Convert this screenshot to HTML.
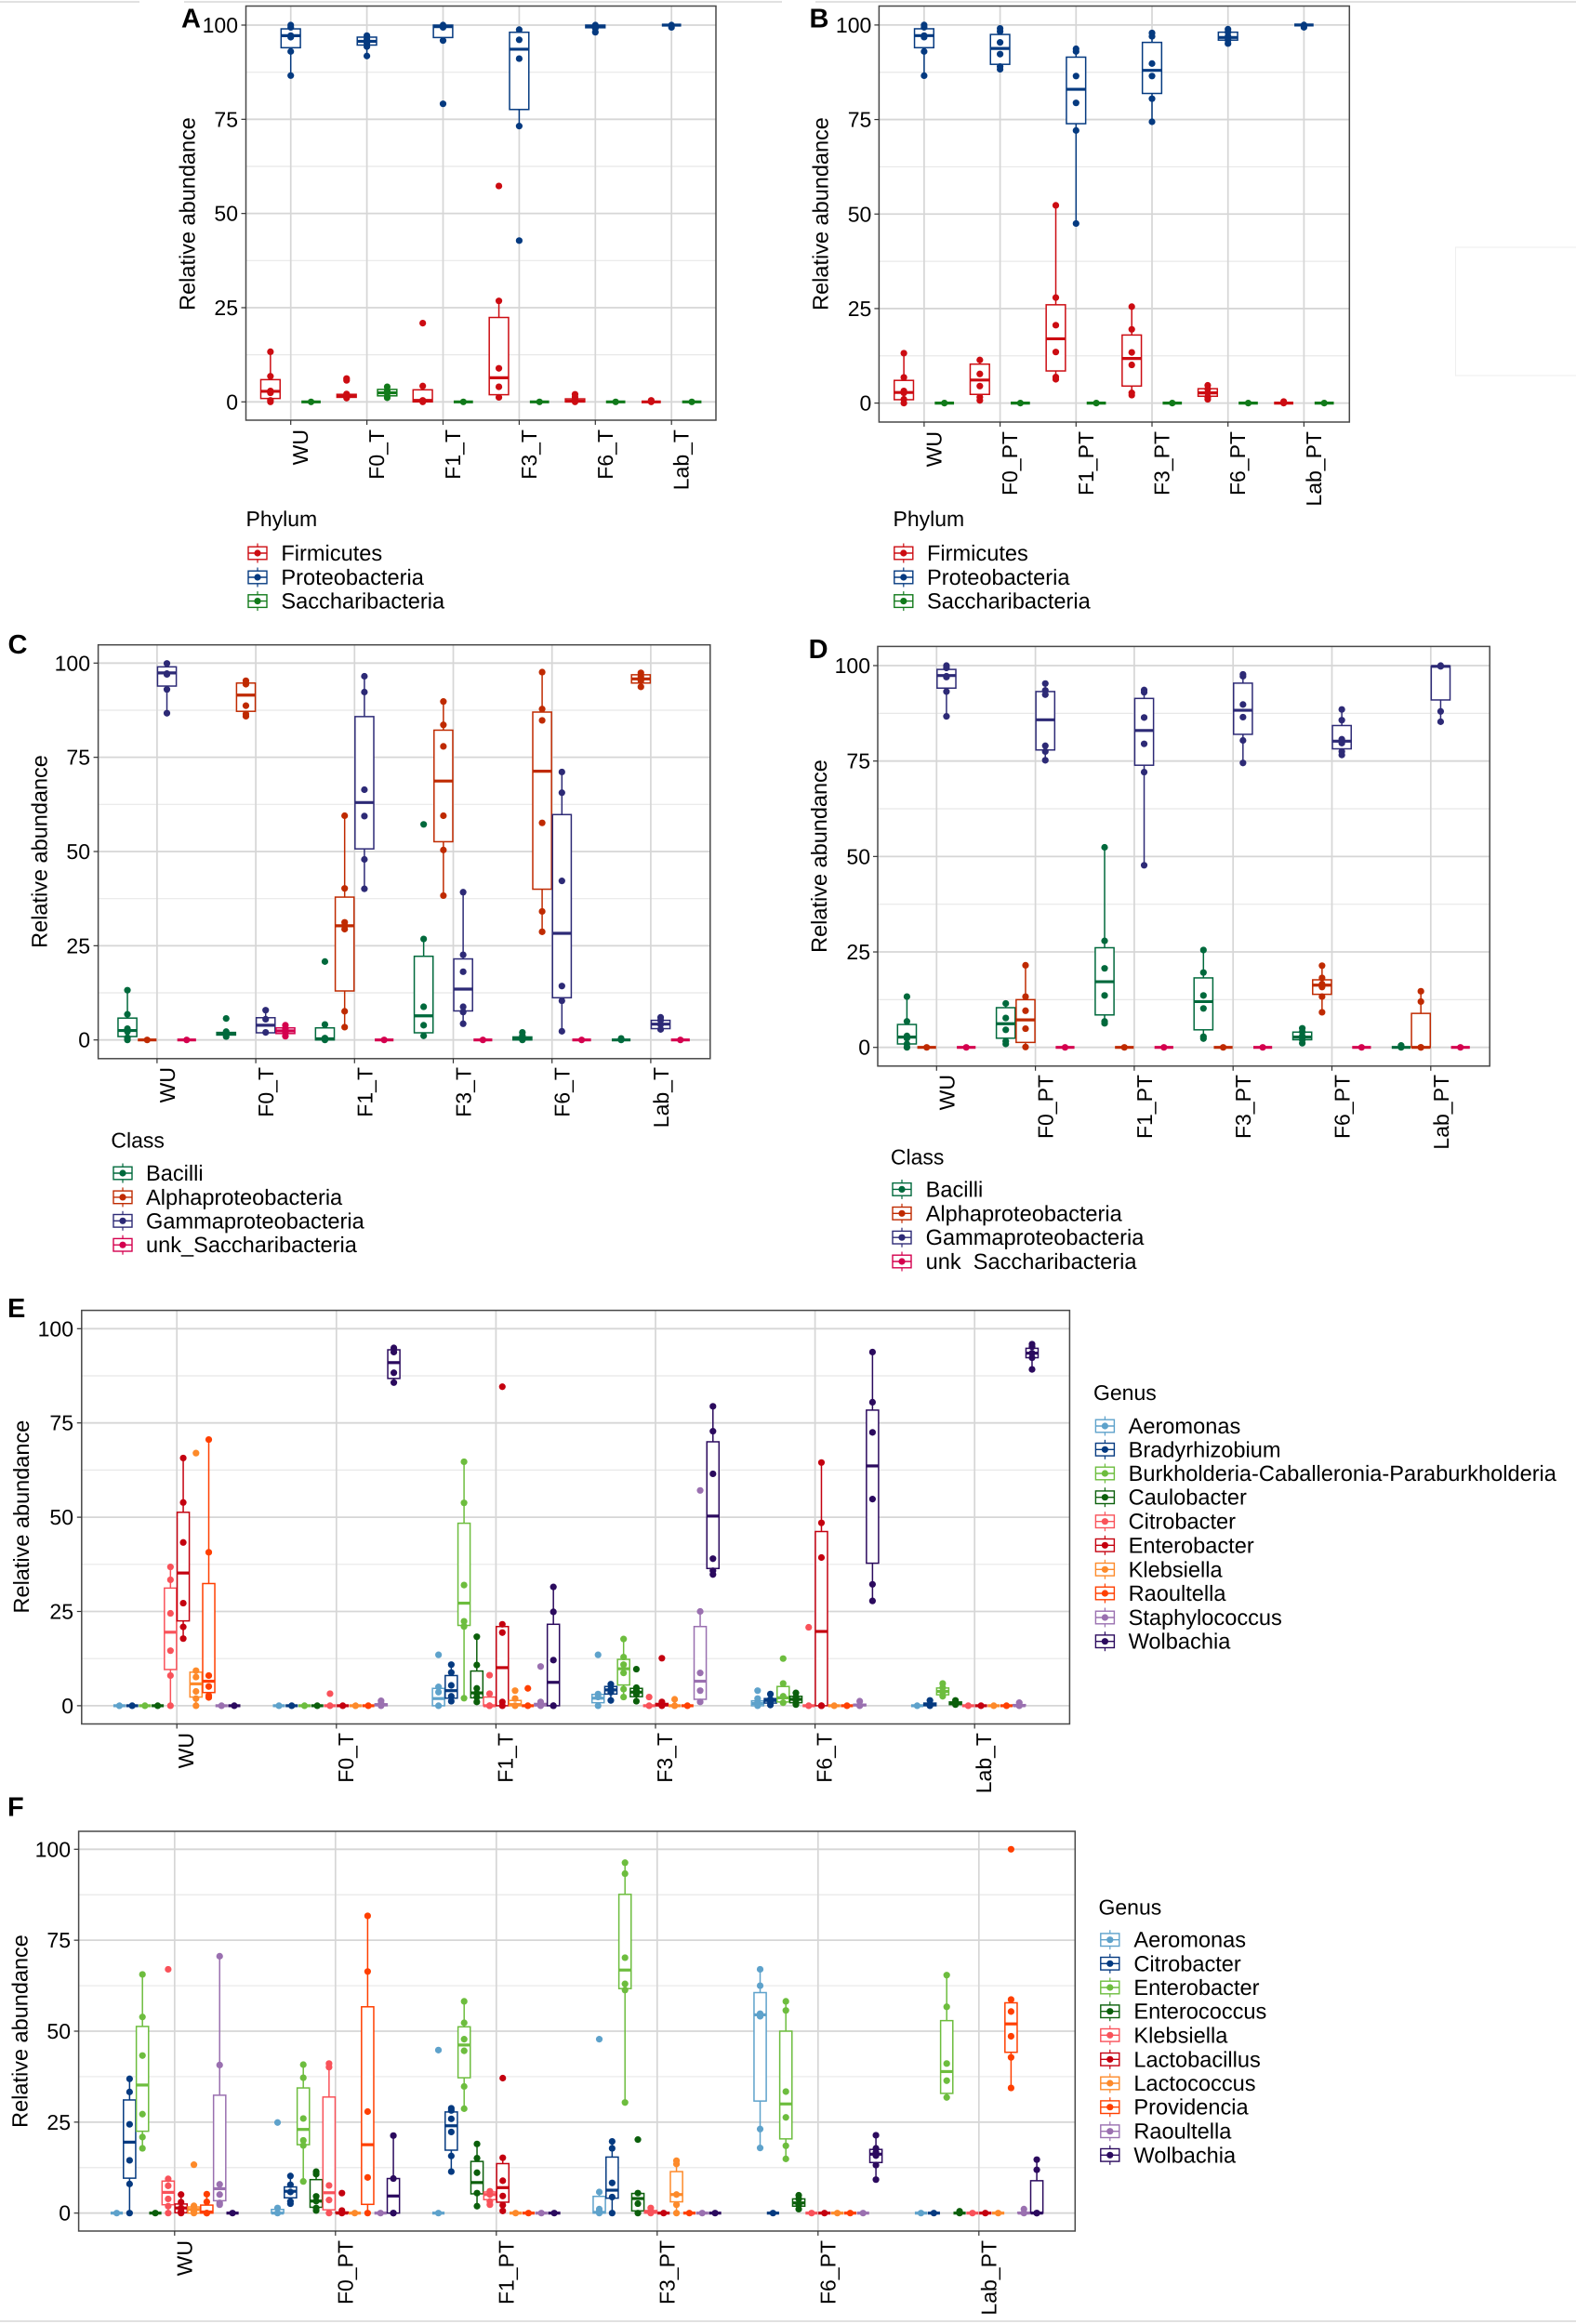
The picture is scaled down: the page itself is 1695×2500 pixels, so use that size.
<!DOCTYPE html>
<html lang="en">
<head>
<meta charset="utf-8">
<title>Relative abundance box plots</title>
<style>
html,body{margin:0;padding:0;background:#fff;}
svg{display:block;font-family:"Liberation Sans",Arial,sans-serif;text-rendering:geometricPrecision;}
text{fill:#000;}
</style>
</head>
<body>
<svg id="figure" width="1695" height="2500" viewBox="0 0 1695 2500">
  <rect x="0" y="0" width="1695" height="2500" fill="#fff"/>
  <line x1="0" y1="2" x2="150" y2="2" stroke="#cfcfcf" stroke-width="1.2"/>
  <line x1="198" y1="2" x2="841" y2="2" stroke="#cfcfcf" stroke-width="1.2"/>
  <line x1="877" y1="2" x2="1695" y2="2" stroke="#cfcfcf" stroke-width="1.2"/>
  <line x1="0" y1="2497" x2="1695" y2="2497" stroke="#cfcfcf" stroke-width="1.2"/>
  <rect x="1565.5" y="266" width="140" height="138" fill="none" stroke="#eeeeee" stroke-width="1"/>
  <g id="panel-a"></g>
  <g id="panel-b"></g>
  <g id="panel-c"></g>
  <g id="panel-d"></g>
  <g id="panel-e"></g>
  <g id="panel-f"></g>
  <rect id="legend-d-mask" x="990" y="1366.5" width="300" height="10" fill="#fff"/>
</svg>
<script>
/* ---------- shared axis values ---------- */
const yTickValues = [0, 25, 50, 75, 100];
const yMinorValues = [12.5, 37.5, 62.5, 87.5];
const yAxisTitle = 'Relative abundance';
const categoriesT = ['WU', 'F0_T', 'F1_T', 'F3_T', 'F6_T', 'Lab_T'];
const categoriesPT = ['WU', 'F0_PT', 'F1_PT', 'F3_PT', 'F6_PT', 'Lab_PT'];

/* Box rows are [q1, median, q3] per category; point rows are the plotted samples. */

/* ---------- panel A ---------- */
const aSeries = ['Firmicutes', 'Proteobacteria', 'Saccharibacteria'];
const aFirmicutesBox = [[0.9,2.8,5.9],[1.2,1.6,2.0],[0,0.4,3.2],[1.9,6.4,22.4],[0,0.2,0.8],[0,0,0]];
const aFirmicutesPts = [[13.3,6.8,2.9,2.4,0.4,0],[6.2,5.7,2.1,1.7,1.0],[20.9,4.2,0.4,0],[57.3,26.8,8.9,4,1.2],[2,1.3,0.4,0],[0.4,0]];
const aProteoBox = [[94,97.2,99],[94.7,95.7,96.8],[96.7,99.6,100],[77.6,93.6,98.1],[99.3,99.7,100],[100,100,100]];
const aProteoPts = [[100,99.4,97.2,96.8,93,86.6],[97.2,96.3,95.2,94.3,91.8],[100,99.4,95.9,79.1],[98.8,96.1,91.1,73.2,42.8],[100,99.1,98.1],[100,99.4]];
const aSaccharBox = [[0,0,0],[1.6,2.4,3.3],[0,0,0],[0,0,0],[0,0,0],[0,0,0]];
const aSaccharPts = [[0],[4,2.9,2.3,1.1],[0],[0],[0],[0]];

/* ---------- panel B ---------- */
const bSeries = ['Firmicutes', 'Proteobacteria', 'Saccharibacteria'];
const bFirmicutesBox = [[0.9,2.8,6],[2.3,6.1,10.3],[8.5,17,26],[4.5,11.8,18],[1.8,2.7,3.8],[0,0,0]];
const bFirmicutesPts = [[13.2,6.8,3.2,2.7,1,0],[11.4,7.7,4.5,1.6,0.7],[52.3,27.9,20.6,13.5,6.9,6.3],[25.5,19.5,13.4,10.1,2.7,2.1],[4.7,3.7,2.7,1.6,1],[0.4,0]];
const bProteoBox = [[94,97.2,99],[89.6,93.8,97.5],[73.9,83,91.5],[81.9,88,95.4],[96,96.7,98.1],[100,100,100]];
const bProteoPts = [[100,99.4,97.2,96.8,93,86.6],[99.1,98.3,95.4,92.3,89,88.3],[93.7,93,86.5,79.4,72.1,47.5],[97.9,97,89.8,86.5,80.5,74.4],[98.9,98.1,97,96,95.1],[100,99.4]];
const bSaccharBox = [[0,0,0],[0,0,0],[0,0,0],[0,0,0],[0,0,0],[0,0,0]];
const bSaccharPts = [[0],[0],[0],[0],[0],[0]];

/* ---------- panel C ---------- */
const cSeries = ['Bacilli', 'Alphaproteobacteria', 'Gammaproteobacteria', 'unk_Saccharibacteria'];
const cBacilliBox = [[0.9,2.5,5.8],[1.3,1.65,2],[0,0.3,3.2],[1.9,6.4,22.2],[0,0.3,0.8],[0,0,0]];
const cBacilliPts = [[13.2,6.8,3,2.2,0.6,0],[5.7,2.2,1.65,0.9],[20.8,4.1,0.5,0],[57.2,26.8,8.8,3.9,1.1],[2,1.1,0],[0.4,0]];
const cAlphaBox = [[0,0,0],[87.2,91.5,94.7],[13,30.3,37.9],[52.6,68.7,82.2],[40,71.3,87],[94.7,95.8,96.9]];
const cAlphaPts = [[0],[95.3,94.4,88.7,86.5,85.9],[59.5,40.2,31.2,30.3,29.4,7.6,3.4],[89.8,83.6,77.9,59.5,50.4,38.3],[97.6,87.8,84.8,57.6,34.1,28.7],[97.4,96.4,95.3,93.7]];
const cGammaBox = [[93.9,97.4,99],[1.9,3.9,5.9],[50.7,63,85.8],[7.7,13.5,21.5],[11.2,28.3,59.8],[3,4.2,5.2]];
const cGammaPts = [[99.9,97.2,97,93,86.7],[7.9,5.5,2],[96.5,92.3,66.4,59.4,47.9,40.1],[39.2,22.6,18.1,8.8,7.4,4.3],[71.1,65.6,42.2,14.3,10.4,2.3],[6,5.2,4.1,2.8]];
const cUnkBox = [[0,0,0],[1.7,2.4,3.2],[0,0,0],[0,0,0],[0,0,0],[0,0,0]];
const cUnkPts = [[0],[3.9,3,1.9,1],[0],[0],[0],[0]];

/* ---------- panel D ---------- */
const dSeries = ['Bacilli', 'Alphaproteobacteria', 'Gammaproteobacteria', 'unk_Saccharibacteria'];
const dBacilliBox = [[0.9,2.7,6],[2.4,6.2,10.4],[8.5,17.2,26.1],[4.6,12,18.2],[2,2.7,4],[0,0,0]];
const dBacilliPts = [[13.3,6.8,3,2.4,0.9,0],[11.5,7.7,4.6,1.6,0.9],[52.4,27.9,20.7,13.6,6.8,6.3],[25.5,19.6,13.6,10.2,2.8,2.3],[5,4.1,3,2,1.1],[0.5,0]];
const dAlphaBox = [[0,0,0],[1.3,7.2,12.5],[0,0,0],[0,0,0],[13.9,16.3,17.7],[0,0,8.9]];
const dAlphaPts = [[0],[21.5,13.3,9.6,4.9,0.1],[0],[0],[21.4,18.2,16.6,15.8,13.3,9.2],[14.7,12,0,0]];
const dGammaBox = [[94.1,97.4,99],[77.9,85.8,93.2],[73.9,83,91.4],[82,88.3,95.4],[78.2,80.2,84.3],[91,99.8,99.9]];
const dGammaPts = [[100,99.4,97.2,97,93.2,86.7],[95.3,93.5,92.4,79,77.5,75.2],[93.6,93,86.4,79.5,72.1,47.7],[97.7,97.2,89.8,86.5,80.4,74.5],[88.5,85.7,80.7,79.7,77.5,76.6],[100,99.8,88,85.3]];
const dUnkBox = [[0,0,0],[0,0,0],[0,0,0],[0,0,0],[0,0,0],[0,0,0]];
const dUnkPts = [[0],[0],[0],[0],[0],[0]];

/* ---------- panel E ---------- */
const eSeries = ['Aeromonas', 'Bradyrhizobium', 'Burkholderia-Caballeronia-Paraburkholderia', 'Caulobacter', 'Citrobacter', 'Enterobacter', 'Klebsiella', 'Raoultella', 'Staphylococcus', 'Wolbachia'];
const eAeromonasBox = [[0,0,0],[0,0,0],[0,1.9,4.6],[0.8,2,3],[0,0.6,1.3],[0,0,0]];
const eAeromonasPts = [[0],[0],[13.5,5,3.6,0],[13.5,3.1,2.3,0],[4,1.9,0.8,0],[0]];
const eBradyBox = [[0,0,0],[0,0,0],[2,4,8],[3.1,4.2,5.1],[0.7,1.4,1.9],[0,0.3,0.7]];
const eBradyPts = [[0],[0],[10.9,8.8,5.4,2.5,1.2],[5.7,4.4,3.6,1.4],[3.1,1.7,1.2,0.2],[1.4,0]];
const eBurkBox = [[0,0,0],[0,0,0],[21.3,27.2,48.4],[5.5,9.8,12.3],[1,2.1,5.1],[2.9,3.8,4.7]];
const eBurkPts = [[0],[0],[64.7,53.8,32,22.4,21,2],[17.7,12.9,10.9,8.7,4.4,2.3],[12.5,5.9,2.5,0.8],[5.9,4.8,3.6,2.5]];
const eCauloBox = [[0,0,0],[0,0,0],[2.1,3.4,9.2],[2.4,3.6,4.6],[0.8,1.7,2.5],[0.3,0.6,1]];
const eCauloPts = [[0],[0],[18.3,10.8,4.6,3.3,2.3,1],[9.7,4.8,4,3.1,1.2],[3.4,2.3,1.4,0.3],[1.4,0.3]];
const eCitroBox = [[9.6,19.5,31.2],[0,0,0],[0,0,2.3],[0,0,0],[0,0,0],[0,0,0]];
const eCitroPts = [[36.8,33.4,24.5,14.6,8,0],[3.2,0],[8.1,3.2,0,0],[2.3,0],[20.8,0],[0]];
const eEnteroBox = [[22.5,35.2,51.3],[0,0,0],[0,10.1,21],[0,0.2,0.6],[0,19.7,46.2],[0,0,0]];
const eEnteroPts = [[65.7,53.9,43.3,27.2,20.9,17.8],[0],[84.6,21.6,19.4,1,0],[12.6,1,0.6,0],[64.5,48.5,39.3,0,0],[0]];
const eKlebsBox = [[2.3,5.8,8.9],[0,0,0],[0,0.3,1.4],[0,0,0],[0,0,0],[0,0,0]];
const eKlebsPts = [[67,9.3,7.6,3.8,1.9,0],[0],[4,1.9,0],[1.7,0],[0],[0]];
const eRaoulBox = [[3.5,6.5,32.4],[0,0,0],[0,0,0],[0,0,0],[0,0,0],[0,0,0]];
const eRaoulPts = [[70.6,40.7,8,5.1,2.7,2.2],[0],[4.6,0],[0],[0],[0]];
const eStaphBox = [[0,0,0],[0,0.25,0.5],[0,0.2,0.6],[1.7,6.5,21],[0,0.2,0.4],[0,0,0.3]];
const eStaphPts = [[0],[1.3,0.6,0],[10.4,1,0],[57.1,25,8.7,4,1],[1.2,0],[0.8,0]];
const eWolbBox = [[0,0,0],[86.8,91,94.4],[0,6.2,21.6],[36.4,50.3,70],[37.8,63.6,78.4],[92.3,93.5,94.8]];
const eWolbPts = [[0],[94.9,93.8,88.3,85.7],[31.5,24.9,12.1,0,0],[79.4,72.8,61.5,39,35.8,34.8],[93.8,80.5,72.5,54.8,32.2,27.8],[95.9,95.2,93.5,92.3,89.2]];

/* ---------- panel F ---------- */
const fSeries = ['Aeromonas', 'Citrobacter', 'Enterobacter', 'Enterococcus', 'Klebsiella', 'Lactobacillus', 'Lactococcus', 'Providencia', 'Raoultella', 'Wolbachia'];
const fAeromonasBox = [[0,0,0],[0,0,1],[0,0,0],[0,0.2,4.6],[30.8,54.5,60.6],[0,0,0]];
const fAeromonasPts = [[0],[24.9,1.4,0],[44.8,0],[47.8,5.8,1.1,0.5,0],[67,62.5,54.8,54.1,23.1,17.9],[0]];
const fCitroBox = [[9.6,19.5,31.1],[4.2,6,7.2],[17.3,24,27.8],[4.1,6.3,15.4],[0,0,0],[0,0,0]];
const fCitroPts = [[36.9,33.3,24.4,14.5,8,0],[10.2,7.8,5.8,3.2,2.6],[28.8,28.2,25.9,22.3,15.7,11.4],[19.7,17.8,8.3,4.4,0],[0],[0]];
const fEnteroBox = [[22.5,35.2,51.3],[18.8,23,34.4],[37.2,46.2,51.2],[61.7,66.8,87.6],[20.4,30,50],[32.9,38.9,52.9]];
const fEnteroPts = [[65.6,53.9,43.3,27.2,20.9,17.8],[40.8,37.2,26,20,18.6,8.7],[58.2,52.3,47.8,44.6,34.8,28.7],[96.3,93.3,70.2,63,61.3,30.4],[58.2,55.7,33.4,26.3,18.5,14.9],[65.4,56.7,41.1,36.4,31.8]];
const fEnterococcusBox = [[0,0,0],[1.6,3.3,9.2],[5.3,8.4,14.2],[0.6,4,5.4],[1.9,2.8,3.9],[0,0,0]];
const fEnterococcusPts = [[0],[11.4,10.7,4.6,3.3,1.4,0.7],[19,15.1,11.1,5.5,1.9],[20.2,5.5,2.6,0],[4.9,3.9,2.3,1.1],[0.5,0]];
const fKlebsBox = [[2.3,5.7,8.8],[0.9,5.6,31.9],[3.7,5.1,5.8],[0,0.2,0.7],[0,0,0],[0,0,0]];
const fKlebsPts = [[67,9.4,7.5,3.9,1.9,0],[41.1,40.1,7.6,3.6,0],[6,5.1,3.2,2.3],[1.4,0.5,0],[0],[0]];
const fLactobacillusBox = [[0.1,1.4,2.5],[0,0,0.3],[3,7,13.6],[0,0,0],[0,0,0],[0,0,0]];
const fLactobacillusPts = [[5.1,3,1.4,0.5,0],[5.5,0.7,0],[37.1,15.2,8.9,4.7,2.2,0.6],[0],[0],[0]];
const fLactococcusBox = [[0,1,1.7],[0,0,0],[0,0,0],[3.1,5.1,11.4],[0,0,0],[0,0,0]];
const fLactococcusPts = [[13.3,2,1.1,0.5,0],[0],[0],[14.4,13.5,5.1,2.3,0],[0],[0]];
const fProvidenciaBox = [[0,0.3,2.2],[2.4,18.8,56.7],[0,0,0],[0,0,0],[0,0,0],[44.2,52,57.8]];
const fProvidenciaPts = [[5.2,3.1,0,0],[81.7,66.4,27.9,9.8,0],[0],[0],[0],[100,58.7,55.4,48.6,42.8,34.4]];
const fRaoulBox = [[3.4,6.7,32.4],[0,0,0],[0,0,0],[0,0,0],[0,0,0],[0,0,0.2]];
const fRaoulPts = [[70.6,40.7,7.9,5.1,2.8,2.3],[0],[0],[0],[0],[1.1,0]];
const fWolbBox = [[0,0,0],[0,4.7,9.5],[0,0,0],[0,0,0],[13.9,16.2,17.5],[0,0,8.9]];
const fWolbPts = [[0],[21.3,9.5,0,0],[0],[0],[21.4,17.8,16.7,15.8,13.2,9.2],[14.7,11.9,0,0]];

/* ---------- colours ---------- */
const phylumColours = ['#cc0c12', '#053a80', '#117a1a'];
const classColours = ['#00693c', '#bf2a00', '#2d2a76', '#d4004e'];
const genusColours = ['#5ea2cb', '#053a80', '#6dbd3e', '#0b5f0b', '#f9525a', '#c4000f', '#fd8a2a', '#ff3f00', '#9a70b0', '#2b0a5e'];

/* ---------- layout (geometry only) ---------- */
const panels = [
  {id:'panel-a', letter:'A', letterX:195, letterY:29.5, left:264.5, right:770, top:6.5, bottom:452, y0:432.3, y100:27,
   firstTick:312.7, tickStep:81.9, categories:categoriesT, series:aSeries, colours:phylumColours,
   boxes:[aFirmicutesBox,aProteoBox,aSaccharBox], pts:[aFirmicutesPts,aProteoPts,aSaccharPts],
   yLabelX:256, titleX:209.5, titleY:230, xLabelY:462, xLabelShift:18.5,
   legendTitle:'Phylum', legendTitleX:264.5, legendTitleY:566, keyX:277, labelX:302.4, keyYs:[595,621,646.6]},
  {id:'panel-b', letter:'B', letterX:870.5, letterY:29.5, left:945.4, right:1451.3, top:6.5, bottom:454, y0:433.6, y100:26.9,
   firstTick:993.9, tickStep:81.7, categories:categoriesPT, series:bSeries, colours:phylumColours,
   boxes:[bFirmicutesBox,bProteoBox,bSaccharBox], pts:[bFirmicutesPts,bProteoPts,bSaccharPts],
   yLabelX:937.3, titleX:890.5, titleY:230, xLabelY:464, xLabelShift:18.5,
   legendTitle:'Phylum', legendTitleX:960.5, legendTitleY:566, keyX:971.8, labelX:997, keyYs:[595,621,646.6]},
  {id:'panel-c', letter:'C', letterX:8.5, letterY:703, left:105.6, right:763.8, top:693.7, bottom:1138.8, y0:1118.7, y100:713.3,
   firstTick:168.9, tickStep:106.2, categories:categoriesT, series:cSeries, colours:classColours,
   boxes:[cBacilliBox,cAlphaBox,cGammaBox,cUnkBox], pts:[cBacilliPts,cAlphaPts,cGammaPts,cUnkPts],
   yLabelX:97, titleX:50.5, titleY:916, xLabelY:1148, xLabelShift:19,
   legendTitle:'Class', legendTitleX:119.4, legendTitleY:1234.7, keyX:132, labelX:157, keyYs:[1262,1287.9,1313.3,1339.2]},
  {id:'panel-d', letter:'D', letterX:869.6, letterY:708, left:944, right:1602.2, top:695.4, bottom:1146.8, y0:1126.7, y100:716,
   firstTick:1007.3, tickStep:106.3, categories:categoriesPT, series:dSeries, colours:classColours,
   boxes:[dBacilliBox,dAlphaBox,dGammaBox,dUnkBox], pts:[dBacilliPts,dAlphaPts,dGammaPts,dUnkPts],
   yLabelX:936, titleX:889, titleY:921, xLabelY:1156, xLabelShift:19,
   legendTitle:'Class', legendTitleX:957.9, legendTitleY:1252.6, keyX:970, labelX:995.6, keyYs:[1279.4,1305.3,1331.2,1357]},
  {id:'panel-e', letter:'E', letterX:8, letterY:1417, left:87.8, right:1150.4, top:1409.6, bottom:1854.5, y0:1834.9, y100:1429.3,
   firstTick:190.2, tickStep:171.6, categories:categoriesT, series:eSeries, colours:genusColours,
   boxes:[eAeromonasBox,eBradyBox,eBurkBox,eCauloBox,eCitroBox,eEnteroBox,eKlebsBox,eRaoulBox,eStaphBox,eWolbBox],
   pts:[eAeromonasPts,eBradyPts,eBurkPts,eCauloPts,eCitroPts,eEnteroPts,eKlebsPts,eRaoulPts,eStaphPts,eWolbPts],
   yLabelX:79, titleX:31, titleY:1631.6, xLabelY:1864, xLabelShift:18,
   legendTitle:'Genus', legendTitleX:1176, legendTitleY:1506, keyX:1188.4, labelX:1213.6, keyYs:[1534,1559.3,1585,1610.7,1636.7,1662.3,1688.3,1714,1740,1765.7]},
  {id:'panel-f', letter:'F', letterX:8, letterY:1953.6, left:84.6, right:1156.3, top:1970, bottom:2400, y0:2380.7, y100:1989.3,
   firstTick:187.8, tickStep:173, categories:categoriesPT, series:fSeries, colours:genusColours,
   boxes:[fAeromonasBox,fCitroBox,fEnteroBox,fEnterococcusBox,fKlebsBox,fLactobacillusBox,fLactococcusBox,fProvidenciaBox,fRaoulBox,fWolbBox],
   pts:[fAeromonasPts,fCitroPts,fEnteroPts,fEnterococcusPts,fKlebsPts,fLactobacillusPts,fLactococcusPts,fProvidenciaPts,fRaoulPts,fWolbPts],
   yLabelX:76, titleX:29.5, titleY:2185, xLabelY:2410, xLabelShift:18.5,
   legendTitle:'Genus', legendTitleX:1181.5, legendTitleY:2059.3, keyX:1193.8, labelX:1219.4, keyYs:[2086.7,2112.3,2138,2163.7,2189.3,2215.3,2241,2266.7,2292.7,2318.3]}
];

/* ---------- drawing ---------- */
const svgRoot = document.getElementById('figure');
const NS = svgRoot.namespaceURI;
const FONT_SIZE = 23;
const LEGEND_FONT_SIZE = 23.6;

function shape(parent, tag, props) {
  const el = document.createElementNS(NS, tag);
  for (const k in props) el.setAttribute(k, props[k]);
  parent.appendChild(el);
  return el;
}

function makeXScale(p) {
  return function (i) { return p.firstTick + i * p.tickStep; };
}
function makeYScale(p) {
  return function (v) { return p.y0 + (p.y100 - p.y0) * v / 100; };
}
function whiskerEnds(box, points) {
  const iqr = box[2] - box[0];
  const loFence = box[0] - 1.5 * iqr - 0.3;
  const hiFence = box[2] + 1.5 * iqr + 0.3;
  let lo = box[0], hi = box[2];
  points.forEach(function (v) {
    if (iqr === 0) return;
    if (v >= loFence && v < lo) lo = v;
    if (v <= hiFence && v > hi) hi = v;
  });
  return [lo, hi];
}

function drawGrid(p, g, x, y) {
  yMinorValues.forEach(function (v) {
    const line = shape(g, 'line', {x1:p.left, x2:p.right, y1:y(v), y2:y(v), stroke:'#e8e8e8', 'stroke-width':1.2});
    
    
  });
  yTickValues.forEach(function (v) {
    const line = shape(g, 'line', {x1:p.left, x2:p.right, y1:y(v), y2:y(v), stroke:'#d6d6d6', 'stroke-width':1.8});
    
    
  });
  p.categories.forEach(function (c, i) {
    const line = shape(g, 'line', {x1:x(i), x2:x(i), y1:p.top, y2:p.bottom, stroke:'#d6d6d6', 'stroke-width':1.7});
    
    
  });
}

function drawBoxes(p, g, x, y) {
  const n = p.series.length;
  const slot = 0.8 * p.tickStep / n;
  const boxW = slot * 0.95;
  p.series.forEach(function (name, s) {
    const colour = p.colours[s];
    p.categories.forEach(function (cat, c) {
      const box = p.boxes[s][c];
      const cx = x(c) + (s - (n - 1) / 2) * slot;
      const ends = whiskerEnds(box, p.pts[s][c]);
      const upper = shape(g, 'line', {x1:cx, x2:cx, y1:y(ends[1]), y2:y(box[2]), stroke:colour, 'stroke-width':1.5});
      
      
      const lower = shape(g, 'line', {x1:cx, x2:cx, y1:y(ends[0]), y2:y(box[0]), stroke:colour, 'stroke-width':1.5});
      
      
      const rect = shape(g, 'rect', {x:cx - boxW / 2, width:boxW, y:y(box[2]), height:Math.max(0, y(box[0]) - y(box[2])), fill:'#fff', stroke:colour, 'stroke-width':1.5});
      
      
      const med = shape(g, 'line', {x1:cx - boxW / 2, x2:cx + boxW / 2, y1:y(box[1]), y2:y(box[1]), stroke:colour, 'stroke-width':3.2});
      
      
    });
  });
}

function drawPoints(p, g, x, y) {
  const n = p.series.length;
  const slot = 0.8 * p.tickStep / n;
  p.series.forEach(function (name, s) {
    p.categories.forEach(function (cat, c) {
      const cx = x(c) + (s - (n - 1) / 2) * slot;
      p.pts[s][c].forEach(function (v) {
        const dot = shape(g, 'circle', {cx:cx, cy:y(v), r:3.6, fill:p.colours[s]});
        
        
      });
    });
  });
}

function drawAxes(p, g, x, y) {
  const frame = shape(g, 'rect', {x:p.left, y:p.top, width:p.right - p.left, height:p.bottom - p.top, fill:'none', stroke:'#484848', 'stroke-width':1.5});
  
  
  yTickValues.forEach(function (v) {
    const tick = shape(g, 'line', {x1:p.left - 5, x2:p.left, y1:y(v), y2:y(v), stroke:'#333', 'stroke-width':1.2});
    
    
    const label = shape(g, 'text', {x:p.yLabelX, y:y(v) + 8, 'text-anchor':'end', 'font-size':FONT_SIZE});
    label.textContent = String(v);
    
    
  });
  p.categories.forEach(function (cat, i) {
    const tick = shape(g, 'line', {x1:x(i), x2:x(i), y1:p.bottom, y2:p.bottom + 5, stroke:'#333', 'stroke-width':1.2});
    
    
    const bx = x(i) + p.xLabelShift;
    const label = shape(g, 'text', {x:bx, y:p.xLabelY, 'text-anchor':'end', 'font-size':FONT_SIZE, transform:'rotate(-90 ' + bx + ' ' + p.xLabelY + ')'});
    label.textContent = cat;
    
    
  });
  const title = shape(g, 'text', {x:p.titleX, y:p.titleY, 'text-anchor':'middle', 'font-size':23.5, transform:'rotate(-90 ' + p.titleX + ' ' + p.titleY + ')'});
  title.textContent = yAxisTitle;
  
  
  const letter = shape(g, 'text', {x:p.letterX, y:p.letterY, 'font-size':29, 'font-weight':'bold'});
  letter.textContent = p.letter;
  
  
}

function drawLegend(p, g) {
  const title = shape(g, 'text', {x:p.legendTitleX, y:p.legendTitleY, 'font-size':FONT_SIZE});
  title.textContent = p.legendTitle;
  
  
  p.series.forEach(function (name, s) {
    const ky = p.keyYs[s];
    const colour = p.colours[s];
    const entry = shape(g, 'g', {});
    
    
    shape(entry, 'line', {x1:p.keyX, x2:p.keyX, y1:ky - 10.5, y2:ky + 10.5, stroke:colour, 'stroke-width':1.2});
    shape(entry, 'rect', {x:p.keyX - 10, y:ky - 6.8, width:20, height:13.6, fill:'#fff', stroke:colour, 'stroke-width':1.4});
    shape(entry, 'line', {x1:p.keyX - 10, x2:p.keyX + 10, y1:ky, y2:ky, stroke:colour, 'stroke-width':1.4});
    shape(entry, 'circle', {cx:p.keyX, cy:ky, r:3.6, fill:colour});
    const label = shape(entry, 'text', {x:p.labelX, y:ky + 8, 'font-size':LEGEND_FONT_SIZE});
    label.textContent = name;
    
    
  });
}

panels.forEach(function (p) {
  const g = document.getElementById(p.id);
  const x = makeXScale(p);
  const y = makeYScale(p);
  drawGrid(p, g, x, y);
  drawBoxes(p, g, x, y);
  drawPoints(p, g, x, y);
  drawAxes(p, g, x, y);
  drawLegend(p, g);
});
svgRoot.appendChild(document.getElementById('legend-d-mask'));
</script>
</body>
</html>
